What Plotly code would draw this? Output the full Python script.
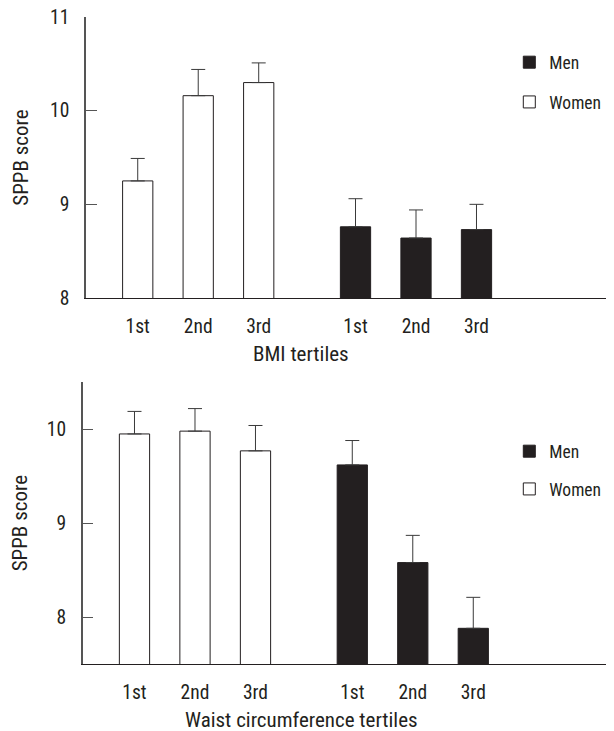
import plotly.graph_objects as go

# ---- data ----
tertiles = ["1st", "2nd", "3rd"]

bmi_women = [9.25, 10.16, 10.30]
bmi_women_err = [0.24, 0.28, 0.21]
bmi_men = [8.76, 8.64, 8.73]
bmi_men_err = [0.30, 0.30, 0.27]

waist_women = [9.95, 9.98, 9.77]
waist_women_err = [0.24, 0.24, 0.27]
waist_men = [9.62, 8.58, 7.88]
waist_men_err = [0.26, 0.29, 0.33]

# ---- layout helpers ----
# the page body has an 8px margin, so the figure is drawn 8px smaller
OFF = 8
W, H = 614 - OFF, 731 - OFF
GROUP_OFFSET = 3.6
women_x = [i for i in range(len(tertiles))]
men_x = [i + GROUP_OFFSET for i in range(len(tertiles))]

DARK = "#231f20"
FONT = "Roboto Condensed, DejaVu Sans Condensed, sans-serif"


def px_x(screen_x):
    return (screen_x - OFF) / W


def px_y(screen_y):
    return (H - (screen_y - OFF)) / H


def err(arr):
    return dict(type="data", array=arr, arrayminus=[0] * len(arr), symmetric=False,
                width=7, thickness=1, color="#3a3a3a")


fig = go.Figure()

panels = [
    ("x", "y", "legend", bmi_men, bmi_men_err, bmi_women, bmi_women_err),
    ("x2", "y2", "legend2", waist_men, waist_men_err, waist_women, waist_women_err),
]
for xa, ya, lg, men, men_e, wom, wom_e in panels:
    fig.add_trace(go.Bar(x=men_x, y=men, name="Men", xaxis=xa, yaxis=ya, width=0.5,
                         marker=dict(color=DARK, line=dict(color=DARK, width=1)),
                         error_y=err(men_e), legend=lg, legendgroup=lg + "m"))
    fig.add_trace(go.Bar(x=women_x, y=wom, name="Women", xaxis=xa, yaxis=ya, width=0.5,
                         marker=dict(color="white", line=dict(color=DARK, width=1)),
                         error_y=err(wom_e), legend=lg, legendgroup=lg + "w"))

xaxis_common = dict(showline=True, linecolor=DARK, linewidth=1.3, ticks="",
                    tickvals=women_x + men_x, ticktext=tertiles * 2, automargin=False,
                    tickfont=dict(family=FONT, size=19.5, color=DARK),
                    showgrid=False, zeroline=False, fixedrange=True, ticklabelstandoff=10,
                    ticklabeloverflow="allow")
yaxis_common = dict(showline=True, linecolor="#555555", linewidth=1.5, ticks="inside",
                    ticklen=11, tickcolor="#555555", tickwidth=1.2, automargin=False,
                    tickfont=dict(family=FONT, size=19.5, color=DARK),
                    showgrid=False, zeroline=False, ticklabelstandoff=11,
                    ticklabeloverflow="allow",
                    title=dict(text="SPPB score", font=dict(family=FONT, size=21, color=DARK),
                               standoff=16))

fig.update_layout(
    width=W, height=H, margin=dict(l=0, r=0, t=0, b=0, autoexpand=False),
    paper_bgcolor="white", plot_bgcolor="white", barmode="overlay",
    xaxis=dict(xaxis_common, domain=[px_x(86), 1], range=[-0.855, 7.873], anchor="y"),
    yaxis=dict(yaxis_common, domain=[px_y(298), px_y(17)], range=[8, 11],
               tickvals=[8, 9, 10, 11], anchor="x"),
    xaxis2=dict(xaxis_common, domain=[px_x(82.7), 1], range=[-0.856, 7.926], anchor="y2"),
    yaxis2=dict(yaxis_common, domain=[px_y(664), px_y(382.3)], range=[7.5, 10.5],
                tickvals=[8, 9, 10], anchor="x2"),
    legend=dict(x=px_x(509.3), xanchor="left", y=px_y(44.3), yanchor="top", tracegroupgap=14,
                font=dict(family=FONT, size=17.5, color=DARK), bgcolor="rgba(0,0,0,0)"),
    legend2=dict(x=px_x(509.3), xanchor="left", y=px_y(433.3), yanchor="top", tracegroupgap=12,
                 font=dict(family=FONT, size=17.5, color=DARK), bgcolor="rgba(0,0,0,0)"),
    showlegend=True,
    annotations=[
        dict(text="BMI tertiles", xref="x", x=2.7, yref="paper", y=px_y(354),
             xanchor="center", yanchor="middle", showarrow=False,
             font=dict(family=FONT, size=21, color=DARK)),
        dict(text="Waist circumference tertiles", xref="x2", x=2.76, yref="paper", y=px_y(720),
             xanchor="center", yanchor="middle", showarrow=False,
             font=dict(family=FONT, size=21, color=DARK)),
    ],
)

fig.write_html("out.html")
